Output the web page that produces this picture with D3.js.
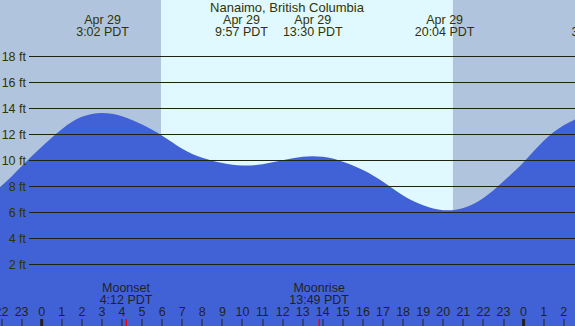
<!DOCTYPE html>
<html>
<head>
<meta charset="utf-8">
<script src="https://cdn.jsdelivr.net/npm/d3@7"></script>
<style>
  body { margin: 0; padding: 0; overflow: hidden; }
  svg { display: block; font-family: "Liberation Sans", Arial, sans-serif; }
</style>
</head>
<body>
<svg id="svgTide" width="575" height="326"></svg>
<script>
// tide chart - Nanaimo

// hours counted from Apr 29 00:00 PDT
var curveHours   = [-3, -2, -1, 0, 1, 2, 3, 4, 5, 6, 7, 8, 9, 10, 11, 12, 13, 14, 15, 16, 17, 18, 19, 20, 21, 22, 23, 24, 25, 26, 27];
var curveHeights = [7.0, 8.1, 9.6, 11.1, 12.45, 13.4, 13.7, 13.45, 12.8, 11.95, 10.95, 10.25, 9.85, 9.65, 9.75, 10.05, 10.33, 10.32, 9.95, 9.3, 8.4, 7.35, 6.6, 6.22, 6.38, 7.15, 8.45, 9.9, 11.55, 12.75, 13.5];

var tideHours  = [3.033, 9.95, 13.5, 20.067, 27.7];
var tideDates  = ["Apr 29", "Apr 29", "Apr 29", "Apr 29", "Apr 30"];
var tideLabels = ["3:02 PDT", "9:57 PDT", "13:30 PDT", "20:04 PDT", "3:42 PDT"];

var sunrise = 5.94, sunset = 20.48;

var moonHours  = [4.2, 13.817];
var moonNames  = ["Moonset", "Moonrise"];
var moonLabels = ["4:12 PDT", "13:49 PDT"];

var feetTicks = [2, 4, 6, 8, 10, 12, 14, 16, 18];
var hourTicks = d3.range(-2, 27);

const drawTide = () => {

    var width = 575, height = 326;
    var svg = d3.select("#svgTide");

    var x_scale = d3.scaleLinear().domain([0, 24]).range([41.7, 523.6]);
    var y_scale = d3.scaleLinear().domain([0, 18]).range([291, 57]);

    // night / day background
    svg.append("rect")
        .attr("x", 0).attr("y", 0)
        .attr("width", width).attr("height", height)
        .attr("fill", "#b0c4de");
    svg.append("rect")
        .attr("x", x_scale(sunrise)).attr("y", 0)
        .attr("width", x_scale(sunset) - x_scale(sunrise)).attr("height", height)
        .attr("fill", "#e0f8ff");

    // water
    var area = d3.area()
        .x(function(d){ return x_scale(d[0]); })
        .y0(height)
        .y1(function(d){ return y_scale(d[1]); })
        .curve(d3.curveNatural);

    svg.append("path")
        .datum(d3.zip(curveHours, curveHeights))
        .attr("d", area)
        .attr("fill", "#4162d7");

    // feet lines + labels
    svg.selectAll(".ftline").data(feetTicks).enter().append("line")
        .attr("class", "ftline")
        .attr("x1", 29).attr("x2", width)
        .attr("y1", function(d){ return Math.round(y_scale(d)) - 0.5; })
        .attr("y2", function(d){ return Math.round(y_scale(d)) - 0.5; })
        .attr("stroke", "#1e2410")
        .attr("stroke-width", 1);

    svg.selectAll(".ftlabel").data(feetTicks).enter().append("text")
        .attr("class", "ftlabel")
        .attr("x", 26)
        .attr("y", function(d){ return y_scale(d) + 4; })
        .attr("text-anchor", "end")
        .style("font-size", "12.5px")
        .style("fill", "#333300")
        .text(function(d){ return d + " ft"; });

    // hour ticks along the bottom
    svg.selectAll(".hrtick").data(hourTicks).enter().append("rect")
        .attr("class", "hrtick")
        .attr("x", function(d){ return d % 24 == 0 ? x_scale(d) - 1.5 : Math.round(x_scale(d)) - 0.5; })
        .attr("y", 319)
        .attr("width", function(d){ return d % 24 == 0 ? 3 : 1; })
        .attr("height", 7)
        .attr("fill", "#222");

    svg.selectAll(".hrlabel").data(hourTicks).enter().append("text")
        .attr("class", "hrlabel")
        .attr("x", function(d){ return x_scale(d); })
        .attr("y", 316)
        .attr("text-anchor", "middle")
        .style("font-size", "12.5px")
        .style("fill", "#222")
        .text(function(d){ return (d + 24) % 24; });

    // moon events
    moonHours.forEach(function(h, i){
        svg.append("rect")
            .attr("x", Math.round(x_scale(h)) - 0.5).attr("y", 319)
            .attr("width", 1.5).attr("height", 7)
            .attr("fill", "#ff0000");
        svg.append("text")
            .attr("x", x_scale(h)).attr("y", 292)
            .attr("text-anchor", "middle")
            .style("font-size", "12.5px")
            .style("fill", "#222")
            .text(moonNames[i]);
        svg.append("text")
            .attr("x", x_scale(h)).attr("y", 304)
            .attr("text-anchor", "middle")
            .style("font-size", "12.5px")
            .style("fill", "#222")
            .text(moonLabels[i]);
    });

    // high / low labels at the top
    tideHours.forEach(function(h, i){
        svg.append("text")
            .attr("x", x_scale(h)).attr("y", 24)
            .attr("text-anchor", "middle")
            .style("font-size", "12.5px")
            .style("fill", "#333300")
            .text(tideDates[i]);
        svg.append("text")
            .attr("x", x_scale(h)).attr("y", 36)
            .attr("text-anchor", "middle")
            .style("font-size", "12.5px")
            .style("fill", "#333300")
            .text(tideLabels[i]);
    });

    svg.append("text")
        .attr("x", 287)
        .attr("y", 12)
        .attr("text-anchor", "middle")
        .style("font-size", "13px")
        .style("fill", "#333300")
        .text("Nanaimo, British Columbia");
}

drawTide();
</script>
</body>
</html>
